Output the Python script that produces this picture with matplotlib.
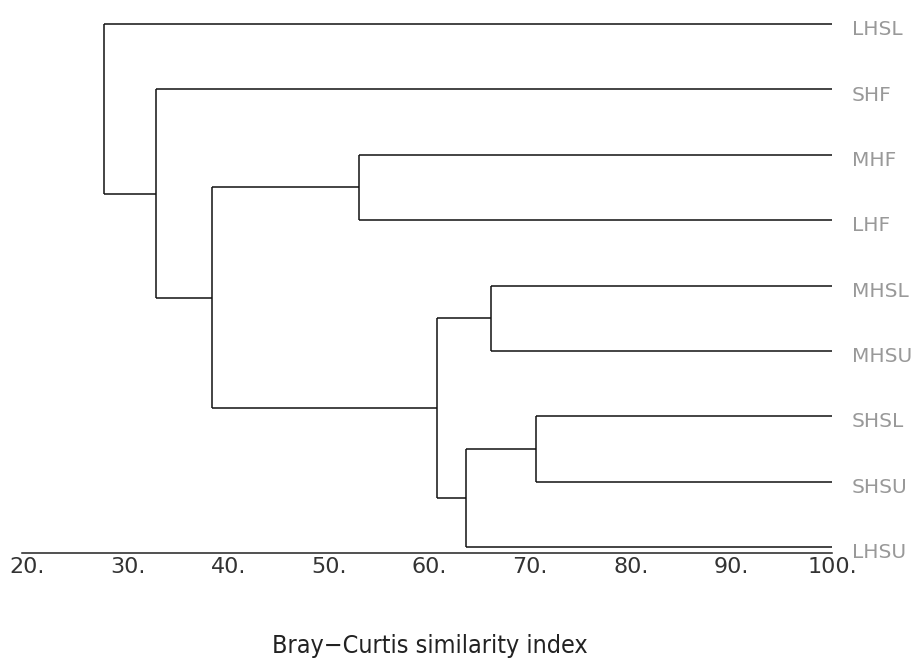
import matplotlib
matplotlib.use("Agg")
import matplotlib.pyplot as plt

# Sites, top to bottom as they appear on the dendrogram
sites = ['LHSL', 'SHF', 'MHF', 'LHF', 'MHSL', 'MHSU', 'SHSL', 'SHSU', 'LHSU']

# Merge steps: clusters 0-8 are sites, each merge creates cluster 9, 10, ...
merge_left = [2, 4, 6, 11, 10, 9, 1, 0]
merge_right = [3, 5, 7, 8, 12, 13, 14, 15]
merge_similarity = [53.0, 66.1, 70.6, 63.6, 60.7, 38.4, 32.8, 27.6]

tick_values = [20, 30, 40, 50, 60, 70, 80, 90, 100]
tick_labels = [f"{v}." for v in tick_values]

fig = plt.figure(figsize=(9.14, 6.71), dpi=100)
ax = fig.add_axes([22 / 914, 1 - 553 / 671, 810 / 914, 553 / 671])

line_kw = dict(color='#111111', lw=1.1, solid_capstyle='butt', clip_on=False)

# position (x = similarity, y = row) of every cluster
pos_x = {i: 100.0 for i in range(len(sites))}
pos_y = {i: float(i) for i in range(len(sites))}

for k, (a, b, s) in enumerate(zip(merge_left, merge_right, merge_similarity)):
    node = len(sites) + k
    for child in (a, b):
        ax.plot([s, pos_x[child]], [pos_y[child], pos_y[child]], **line_kw)
    ax.plot([s, s], [pos_y[a], pos_y[b]], **line_kw)
    pos_x[node] = s
    pos_y[node] = (pos_y[a] + pos_y[b]) / 2

# site names sit a little below their branch
for i, name in enumerate(sites):
    ax.text(102.0, i + 0.17, name, va='baseline', ha='left', fontsize=14.5,
            color='#999999', family='DejaVu Sans', clip_on=False)

ax.set_xlim(19.5, 100)
ax.set_ylim(8.09, -0.367)

ax.set_xticks(tick_values)
ax.set_xticklabels(tick_labels, fontsize=16, color='#333333', family='DejaVu Sans')
ax.tick_params(axis='x', length=0, pad=3)
ax.set_yticks([])
for side in ('top', 'left', 'right'):
    ax.spines[side].set_visible(False)
ax.spines['bottom'].set_color('#222222')
ax.spines['bottom'].set_linewidth(1.1)

fig.text(430 / 914, 1 - 653 / 671, 'Bray\u2212Curtis similarity index',
         ha='center', va='baseline', fontsize=18, color='#222222',
         family='DejaVu Sans', stretch='condensed')

fig.savefig('out.png', dpi=100, facecolor='white')
